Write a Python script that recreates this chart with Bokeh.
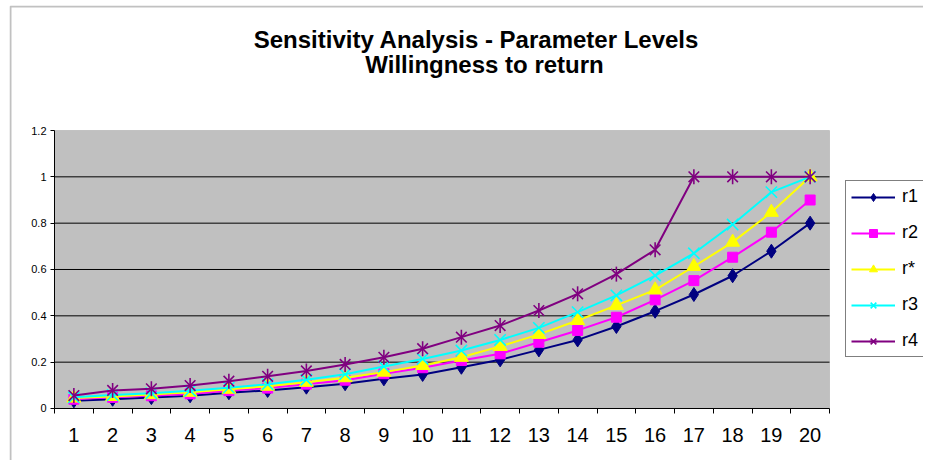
from bokeh.plotting import figure
from bokeh.models import (Legend, LegendItem, FixedTicker, NumeralTickFormatter,
                          Label, Range1d, BoxAnnotation)
from bokeh.embed import file_html
from bokeh.resources import INLINE

periods = list(range(1, 21))
period_labels = [str(i) for i in periods]
r1 = [0.033, 0.040, 0.047, 0.055, 0.068, 0.078, 0.092, 0.107, 0.128, 0.147,
      0.178, 0.210, 0.253, 0.296, 0.354, 0.420, 0.492, 0.573, 0.679, 0.800]
r2 = [0.040, 0.048, 0.055, 0.063, 0.077, 0.088, 0.105, 0.122, 0.150, 0.176,
      0.207, 0.236, 0.286, 0.337, 0.394, 0.469, 0.552, 0.653, 0.761, 0.900]
rstar = [0.045, 0.052, 0.060, 0.070, 0.083, 0.096, 0.113, 0.133, 0.157, 0.186,
         0.221, 0.268, 0.320, 0.380, 0.445, 0.512, 0.613, 0.718, 0.847, 1.000]
r3 = [0.048, 0.058, 0.066, 0.077, 0.090, 0.105, 0.124, 0.148, 0.181, 0.214,
      0.250, 0.296, 0.348, 0.416, 0.488, 0.574, 0.670, 0.794, 0.934, 1.000]
r4 = [0.056, 0.078, 0.085, 0.099, 0.118, 0.139, 0.162, 0.190, 0.221, 0.258,
      0.308, 0.358, 0.423, 0.495, 0.580, 0.685, 1.000, 1.000, 1.000, 1.000]
y_ticks = [0, 0.2, 0.4, 0.6, 0.8, 1.0, 1.2]
grid_levels = [0.2, 0.4, 0.6, 0.8, 1.0]
title_line1 = "Sensitivity Analysis - Parameter Levels"
title_line2 = "Willingness to return"

FONT = "Liberation Sans"
X_MIN, X_MAX = 0.5, 20.5      # category band edges of the plot area
Y_MIN, Y_MAX = 0.0, 1.2

# The frame covers the whole chart area (border, titles, legend); the grey
# plot area is drawn inside it and the axes sit at fixed data locations.
p = figure(width=923, height=460, output_backend="svg", toolbar_location=None,
           x_range=Range1d(-0.6613, 22.9258), y_range=Range1d(-0.2245, 1.7396),
           min_border_left=9, min_border_right=0, min_border_top=5,
           min_border_bottom=0)
p.title.visible = False
p.background_fill_color = "white"
p.border_fill_color = "white"
p.outline_line_color = None
p.xgrid.visible = False
p.ygrid.visible = False

# chart-area border (left/top edges visible, the rest lies off the canvas)
p.add_layout(BoxAnnotation(left=10, top=6, right=3000, bottom=3000,
                           left_units="canvas", top_units="canvas",
                           right_units="canvas", bottom_units="canvas",
                           fill_alpha=0, line_color="#333333", line_width=2,
                           level="image"))
# grey plot area
p.add_layout(BoxAnnotation(left=X_MIN, right=X_MAX, bottom=Y_MIN, top=Y_MAX,
                           fill_color="#C0C0C0", fill_alpha=1,
                           line_color="#808080", line_width=1, level="image"))
# horizontal gridlines
p.segment(x0=[X_MIN] * len(grid_levels), x1=[X_MAX] * len(grid_levels),
          y0=grid_levels, y1=grid_levels, line_color="black", line_width=1)

# titles
for txt, sx, sy in [(title_line1, 467, 421), (title_line2, 475, 396)]:
    p.add_layout(Label(x=sx, y=sy, x_units="screen", y_units="screen", text=txt,
                       text_align="center", text_baseline="alphabetic",
                       text_font=FONT, text_font_size="24px",
                       text_font_style="bold", text_color="black"))

# axes at fixed locations
yax = p.left[0]
yax.fixed_location = X_MIN
yax.bounds = (Y_MIN, Y_MAX)
yax.ticker = FixedTicker(ticks=y_ticks)
yax.formatter = NumeralTickFormatter(format="0.[0]")
yax.major_label_text_font = FONT
yax.major_label_text_font_size = "11px"
yax.major_label_text_color = "black"
yax.major_tick_in = 0
yax.major_tick_out = 4
yax.minor_tick_line_color = None
yax.axis_line_color = "black"
yax.major_tick_line_color = "black"
yax.major_label_standoff = 4

xax = p.below[0]
xax.fixed_location = Y_MIN
xax.bounds = (X_MIN, X_MAX)
xax.ticker = FixedTicker(ticks=periods, minor_ticks=[i + 0.5 for i in range(0, 21)])
xax.major_label_overrides = {i: s for i, s in zip(periods, period_labels)}
xax.major_tick_in = 0
xax.major_tick_out = 0
xax.minor_tick_in = 0
xax.minor_tick_out = 5
xax.minor_tick_line_color = "black"
xax.axis_line_color = "black"
xax.major_label_text_font = FONT
xax.major_label_text_font_size = "20px"
xax.major_label_text_color = "black"
xax.major_label_standoff = 15

series = [
    ("r1", r1, "#000080", "diamond", 14),
    ("r2", r2, "#FF00FF", "square", 10),
    ("r*", rstar, "#FFFF00", "triangle", 14),
    ("r3", r3, "#00FFFF", "x", 16),
    ("r4", r4, "#800080", "x", 15),
]
items = []
for name, vals, col, mk, sz in series:
    ln = p.line(periods, vals, line_color=col, line_width=2)
    rs = [ln]
    if mk == "x":
        rs.append(p.scatter(periods, vals, marker="x", size=sz, line_color=col,
                            line_width=1.6))
        if name == "r4":
            rs.append(p.scatter(periods, vals, marker="dash", angle=1.5708, size=sz,
                                line_color=col, line_width=1.6))
    else:
        rs.append(p.scatter(periods, vals, marker=mk, size=sz,
                            fill_color=col, line_color=col))
    items.append(LegendItem(label=name, renderers=rs))

legend = Legend(items=items, location=(836, 103), border_line_color="black",
                border_line_width=1, background_fill_color="white",
                background_fill_alpha=1, label_text_font=FONT,
                label_text_font_size="18px", label_text_color="black",
                glyph_width=44, glyph_height=20, spacing=15, padding=5,
                margin=0, label_standoff=7, label_height=20)
p.add_layout(legend, "center")

open("out.html", "w").write(file_html(p, INLINE))
